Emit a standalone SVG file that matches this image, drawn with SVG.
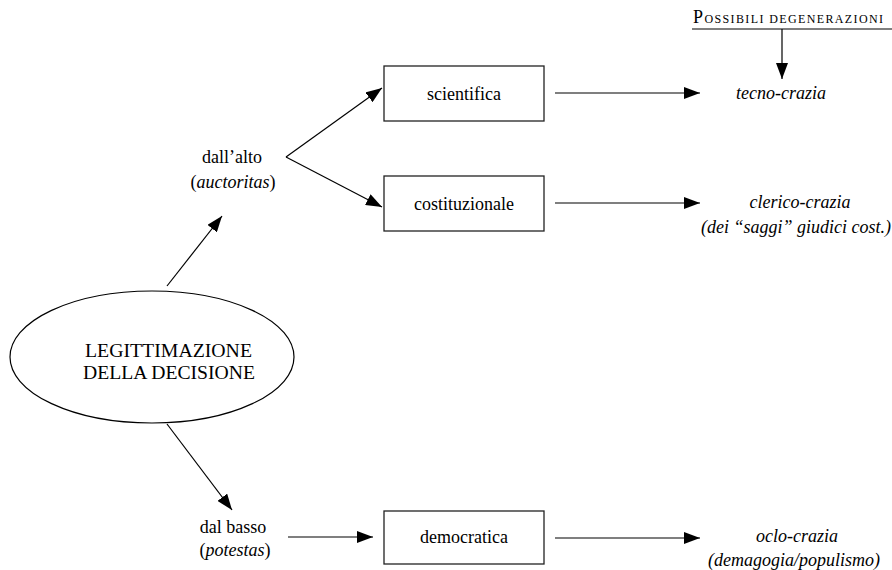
<svg xmlns="http://www.w3.org/2000/svg" width="892" height="570" viewBox="0 0 892 570">
<style>
text{font-family:"Liberation Serif","Times New Roman",serif;font-size:18px;fill:#000}
.c{text-anchor:middle}
.i{font-style:italic}
.box{fill:#fff;stroke:#222;stroke-width:1.3}
.ln{stroke:#000;stroke-width:1.2;fill:none}
.ar{marker-end:url(#ah)}
</style>
<defs>
<marker id="ah" markerUnits="userSpaceOnUse" markerWidth="18" markerHeight="12" refX="16" refY="6" orient="auto">
<path d="M0,0 L16,6 L0,12 Z" fill="#000"/>
</marker>
</defs>
<g id="connectors">
<line class="ln ar" x1="167" y1="286" x2="222" y2="216"/>
<line class="ln ar" x1="167" y1="424" x2="232" y2="510"/>
<line class="ln ar" x1="286" y1="157" x2="382" y2="88"/>
<line class="ln ar" x1="286" y1="157" x2="382" y2="207"/>
<line class="ln ar" x1="555" y1="93" x2="700" y2="93"/>
<line class="ln ar" x1="555" y1="203" x2="700" y2="203"/>
<line class="ln ar" x1="288" y1="537" x2="373" y2="537"/>
<line class="ln ar" x1="555" y1="538" x2="700" y2="538"/>
<line class="ln" x1="692" y1="29" x2="892" y2="29"/>
<line class="ln ar" x1="782" y1="29" x2="782" y2="79"/>
</g>
<g id="header">
<text x="693" y="23" textLength="190" lengthAdjust="spacing" font-size="15">P<tspan font-size="12">OSSIBILI DEGENERAZIONI</tspan></text>
</g>
<g id="legittimazione">
<ellipse cx="152" cy="357" rx="142" ry="66" fill="#fff" stroke="#000" stroke-width="1.2"/>
<text x="85" y="357" font-size="19.5" textLength="167" lengthAdjust="spacingAndGlyphs">LEGITTIMAZIONE</text>
<text x="83" y="379" font-size="19.5" textLength="172" lengthAdjust="spacingAndGlyphs">DELLA DECISIONE</text>
</g>
<g id="dallalto">
<text class="c" x="232" y="163">dall’alto</text>
<text class="c" x="233" y="188">(<tspan class="i">auctoritas</tspan>)</text>
</g>
<g id="dalbasso">
<text class="c" x="233" y="533">dal basso</text>
<text class="c" x="235" y="556">(<tspan class="i">potestas</tspan>)</text>
</g>
<g id="scientifica">
<rect class="box" x="384" y="66" width="160" height="55"/>
<text class="c" x="464" y="100">scientifica</text>
</g>
<g id="costituzionale">
<rect class="box" x="384" y="176" width="160" height="55"/>
<text class="c" x="464" y="210">costituzionale</text>
</g>
<g id="democratica">
<rect class="box" x="384" y="511" width="160" height="53"/>
<text class="c" x="464" y="543">democratica</text>
</g>
<g id="tecnocrazia">
<text class="c i" x="781" y="99">tecno-crazia</text>
</g>
<g id="clericocrazia">
<text class="c i" x="800" y="208">clerico-crazia</text>
<text class="c i" x="796" y="233">(dei “saggi” giudici cost.)</text>
</g>
<g id="oclocrazia">
<text class="c i" x="797" y="542">oclo-crazia</text>
<text class="c i" x="794" y="566">(demagogia/populismo)</text>
</g>
</svg>
